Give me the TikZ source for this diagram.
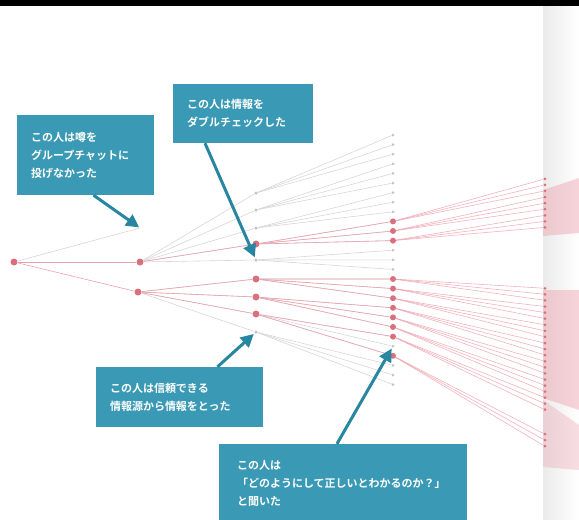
\documentclass[tikz,border=0pt]{standalone}
\usepackage{fontspec}
\newfontfamily\jpfont{Noto Sans CJK JP}[BoldFont={Noto Sans CJK JP Bold}]
\usetikzlibrary{arrows.meta,positioning}

\definecolor{noteColor}{RGB}{58,153,180}
\definecolor{arrowColor}{RGB}{40,134,160}
\definecolor{rumorColor}{RGB}{216,112,125}
\definecolor{rumorLineColor}{RGB}{236,160,172}
\definecolor{quietColor}{RGB}{196,196,196}

\tikzset{
  note/.style={fill=noteColor, text=white, align=left, inner xsep=14pt, inner ysep=0pt,
    font=\jpfont\bfseries\fontsize{11}{18}\selectfont},
  pointer/.style={arrowColor, line width=3pt, -{Triangle[length=13pt,width=13pt]}, shorten >=1pt},
  spot/.style={circle, fill=rumorColor, inner sep=0pt, minimum size=7pt},
  dot/.style={circle, fill=quietColor, inner sep=0pt, minimum size=3.5pt},
  leaf/.style={circle, fill=rumorColor, inner sep=0pt, minimum size=3pt},
  quietLine/.style={quietColor!70, line width=.6pt},
  rumorLine/.style={rumorLineColor, line width=.6pt},
}

\begin{document}
\begin{tikzpicture}[x=1pt,y=-1pt]
  \useasboundingbox (0,0) rectangle (579,520);
  \fill[black] (0,0) rectangle (579,6);
  % Page fold
  \shade[left color=black!8, right color=white] (543,6) rectangle (579,520);
  \fill[rumorLineColor, opacity=.45] (543,190) -- (579,178) -- (579,233) -- (543,236) -- cycle;
  \fill[rumorLineColor, opacity=.45] (543,290) -- (579,290) -- (579,410) -- (543,398) -- cycle;
  \fill[rumorLineColor, opacity=.35] (543,400) -- (579,425) -- (579,470) -- (543,467) -- cycle;
  % First steps
  \node[spot] (root) at (14,262) {};
  \coordinate (quietOne) at (140,228);
  \node[spot] (firstA) at (140,262) {};
  \node[spot] (firstB) at (138,292) {};
  \draw[quietLine] (root) -- (quietOne);
  \draw[rumorLine] (root) -- (firstA);
  \draw[rumorLine] (root) -- (firstB);
  % Second column
  \foreach \i/\y in {0/193,1/210,2/228,4/260,8/332}
    \node[dot] (second-\i) at (256,\y) {};
  \foreach \i/\y in {3/244,5/279,6/297,7/314}
    \node[spot] (second-\i) at (256,\y) {};
  \foreach \i in {0,...,4}
    \draw[quietLine] (firstA) -- (second-\i);
  \foreach \i in {5,...,8}
    \draw[quietLine] (firstB) -- (second-\i);
  \draw[rumorLine] (firstA) -- (second-3);
  \foreach \i in {5,6,7}
    \draw[rumorLine] (firstB) -- (second-\i);
  % Third column
  \foreach \j in {0,...,26}{
    \pgfmathtruncatemacro{\p}{int(\j/3)}
    \node[dot, minimum size=3pt] (third-\j) at (393,135+9.6*\j) {};
    \draw[quietLine] (second-\p) -- (third-\j);
  }
  \foreach \j in {9,10,11,15,16,17,18,19,20,21,23}{
    \pgfmathtruncatemacro{\p}{int(\j/3)}
    \node[spot, minimum size=6pt] (third-\j) at (393,135+9.6*\j) {};
    \draw[rumorLine] (second-\p) -- (third-\j);
    % Fourth column
    \foreach \m in {-1,0,1}{
      \node[leaf] (fourth-\j-\m) at (545,{262+(135+9.6*\j-262)*1.9+6*\m}) {};
      \draw[rumorLine, opacity=.8] (third-\j) -- (fourth-\j-\m);
    }
  }
  % Notes
  \node[note, text width=109pt, minimum width=137pt, minimum height=80pt] (groupNote) at (85.5,155)
    {この人は噂を\\グループチャットに\\投げなかった};
  \node[note, text width=112pt, minimum width=140pt, minimum height=59pt] (checkNote) at (243,113.5)
    {この人は情報を\\ダブルチェックした};
  \node[note, text width=139pt, minimum width=167pt, minimum height=60pt] (sourceNote) at (179.5,397)
    {この人は信頼できる\\情報源から情報をとった};
  \node[note, text width=212pt, inner xsep=18pt, minimum width=248pt, minimum height=78pt] (askNote) at (343,483)
    {この人は\\「どのようにして正しいとわかるのか？」\\と聞いた};
  % Arrows
  \draw[pointer] ([xshift=8pt]groupNote.south) -- (quietOne);
  \draw[pointer] ([xshift=-38pt]checkNote.south) -- (second-4);
  \draw[pointer] ([xshift=38pt]sourceNote.north) -- (second-8);
  \draw[pointer] ([xshift=-6pt]askNote.north) -- (third-22);
\end{tikzpicture}
\end{document}
